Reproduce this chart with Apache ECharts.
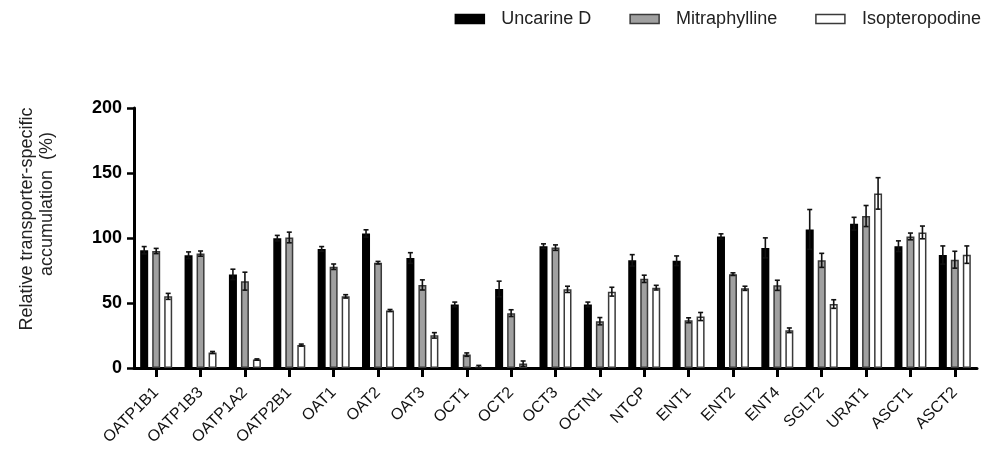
<!DOCTYPE html>
<html>
<head>
<meta charset="utf-8">
<script src="https://cdn.jsdelivr.net/npm/echarts@6/dist/echarts.min.js"></script>
<style>
html,body{margin:0;padding:0;background:#fff;}
#chart{width:990px;height:450px;}
</style>
</head>
<body>
<div id="chart"></div>
<script>
var categories = ['OATP1B1','OATP1B3','OATP1A2','OATP2B1','OAT1','OAT2','OAT3','OCT1','OCT2','OCT3','OCTN1','NTCP','ENT1','ENT2','ENT4','SGLT2','URAT1','ASCT1','ASCT2'];
var seriesNames = ['Uncarine D','Mitraphylline','Isopteropodine'];

var uncarineD     = [90.6, 86.7, 72.0, 99.9, 91.6, 103.5, 84.6, 48.9, 60.8, 93.7, 48.9, 82.8, 82.5, 101.2, 92.4, 106.6, 111.0, 93.7, 86.9];
var uncarineDErr  = [2.8, 2.6, 4.0, 2.1, 1.8, 2.8, 4.1, 1.8, 6.0, 1.8, 1.8, 4.4, 3.7, 2.0, 7.7, 15.3, 4.9, 4.1, 7.0];

var mitraphylline    = [90.0, 88.0, 66.8, 100.4, 77.9, 81.0, 63.9, 10.3, 42.2, 92.6, 36.0, 68.6, 36.7, 72.2, 63.6, 82.8, 116.9, 101.2, 83.3];
var mitraphyllineErr = [2.0, 2.0, 6.9, 4.1, 2.1, 1.0, 3.9, 1.3, 2.6, 2.1, 2.8, 2.8, 1.9, 1.0, 3.9, 5.4, 8.1, 2.6, 6.5];

var isopteropodine    = [55.1, 11.9, 6.5, 17.6, 55.1, 44.2, 25.1, 1.0, 3.4, 60.5, 58.7, 61.8, 39.6, 61.3, 29.0, 49.2, 134.3, 104.3, 87.2];
var isopteropodineErr = [2.3, 0.8, 0.5, 0.8, 1.3, 0.8, 2.1, 1.0, 2.0, 2.4, 3.4, 1.8, 3.1, 1.6, 1.8, 3.3, 12.1, 4.9, 6.7];

var yTicks = [0, 50, 100, 150, 200];
var yNameLines = ['Relative transporter-specific', 'accumulation  (%)'];

var FONT = '"Liberation Sans", Arial, sans-serif';
var BAR_W = 8, BAR_GAP = 4;
var fills = ['#000000', '#a0a0a0', '#ffffff'];
var borders = ['#000000', '#3a3a3a', '#3a3a3a'];
var means = [uncarineD, mitraphylline, isopteropodine];
var errs = [uncarineDErr, mitraphyllineErr, isopteropodineErr];

var series = [];
seriesNames.forEach(function (name, i) {
  series.push({
    name: name,
    type: 'bar',
    data: means[i],
    barWidth: BAR_W,
    barGap: (BAR_GAP / BAR_W * 100) + '%',
    itemStyle: { color: fills[i], borderColor: borders[i], borderWidth: 1.5 },
    emphasis: { disabled: true },
    z: 2
  });
});
seriesNames.forEach(function (name, i) {
  var offset = (i - 1) * (BAR_W + BAR_GAP);
  series.push({
    name: name + ' err',
    type: 'custom',
    z: 5,
    silent: true,
    data: categories.map(function (c, k) { return [k, means[i][k], errs[i][k]]; }),
    renderItem: function (params, api) {
      var k = api.value(0), v = api.value(1), e = api.value(2);
      var top = api.coord([k, v + e]);
      var bot = api.coord([k, Math.max(0, v - e)]);
      var cx = top[0] + offset;
      var st = { stroke: '#111', lineWidth: 1.6 };
      return {
        type: 'group',
        children: [
          { type: 'line', shape: { x1: cx, y1: top[1], x2: cx, y2: bot[1] }, style: st },
          { type: 'line', shape: { x1: cx - 2.5, y1: top[1], x2: cx + 2.5, y2: top[1] }, style: st },
          { type: 'line', shape: { x1: cx - 2.5, y1: bot[1], x2: cx + 2.5, y2: bot[1] }, style: st }
        ]
      };
    }
  });
});

var chart = echarts.init(document.getElementById('chart'), null, { renderer: 'canvas' });
chart.setOption({
  animation: false,
  backgroundColor: '#fff',
  textStyle: { fontFamily: FONT },
  legend: {
    data: seriesNames,
    top: 5,
    right: 4,
    icon: 'rect',
    itemWidth: 29,
    itemHeight: 9,
    itemGap: 38,
    itemStyle: { borderWidth: 1.5 },
    textStyle: { fontFamily: FONT, fontSize: 18, color: '#222', padding: [0, 0, 0, 12] },
    selectedMode: false
  },
  grid: { left: 134, right: 13, top: 108, bottom: 82, containLabel: false },
  xAxis: {
    type: 'category',
    data: categories,
    axisLine: { lineStyle: { color: '#000', width: 3 } },
    axisTick: { show: true, alignWithLabel: true, length: 9, lineStyle: { color: '#000', width: 3 } },
    axisLabel: { interval: 0, rotate: 45, fontFamily: FONT, fontSize: 16, color: '#111', margin: 22 },
    splitLine: { show: false }
  },
  yAxis: {
    type: 'value',
    min: yTicks[0],
    max: yTicks[yTicks.length - 1],
    interval: yTicks[1] - yTicks[0],
    axisLine: { show: true, lineStyle: { color: '#000', width: 3 } },
    axisTick: { show: true, length: 7, lineStyle: { color: '#000', width: 2.5 } },
    axisLabel: { fontFamily: FONT, fontSize: 18, fontWeight: 'bold', color: '#000', margin: 12 },
    splitLine: { show: false }
  },
  graphic: [{
    type: 'text',
    x: 27,
    y: 219,
    rotation: Math.PI / 2,
    style: { text: yNameLines[0], fontFamily: FONT, fontSize: 18, fill: '#222', align: 'center', verticalAlign: 'middle' }
  }, {
    type: 'text',
    x: 47,
    y: 204,
    rotation: Math.PI / 2,
    style: { text: yNameLines[1], fontFamily: FONT, fontSize: 18, fill: '#222', align: 'center', verticalAlign: 'middle' }
  }],
  series: series
});
</script>
</body>
</html>
